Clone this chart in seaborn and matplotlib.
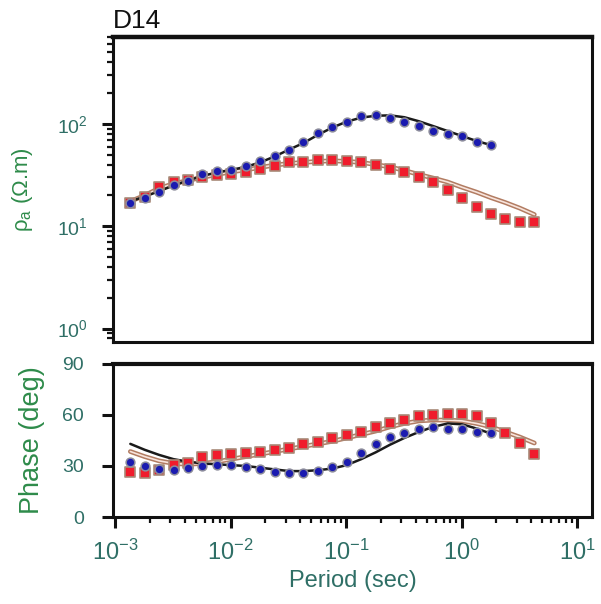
import numpy as np
import pandas as pd
import matplotlib
matplotlib.use("Agg")
import matplotlib.pyplot as plt
import seaborn as sns
from matplotlib.ticker import LogLocator, LogFormatterSciNotation, NullFormatter, FixedLocator

period = [0.00135, 0.0018, 0.0024, 0.0032, 0.00427, 0.00569, 0.00759, 0.0101,
          0.0135, 0.018, 0.024, 0.032, 0.0427, 0.0569, 0.0759, 0.101,
          0.135, 0.18, 0.24, 0.32, 0.427, 0.569, 0.759, 1.01,
          1.35, 1.8, 2.4, 3.2, 4.27]

rho_xy = [16.7, 19.0, 21.7, 25.0, 27.5, 32.0, 34.4, 35.8, 38.5, 43.0, 48.9, 56.0, 66.4,
          81.3, 94.2, 105, 118, 122, 113, 105, 95.5, 85.5, 78.7, 75.3, 65.8, 62.1]
rho_yx = [17.0, 19.5, 24.0, 27.0, 28.2, 30.0, 31.5, 32.5, 34.0, 36.0, 39.0, 42.0, 42.5,
          44.0, 44.0, 43.0, 42.0, 40.0, 36.3, 34.2, 30.1, 27.2, 22.5, 19.0, 15.5, 13.3,
          11.7, 11.1, 11.1]
rho_xy_model = [17.5, 19.5, 22.0, 25.0, 28.0, 31.0, 33.5, 35.5, 38.0, 42.0, 48.0, 56.0, 65.0,
                78.0, 92.0, 105, 115, 120, 121, 116, 106, 95.0, 85.0, 76.0, 68.0, 62.0]
rho_yx_model = [17.5, 20.0, 23.5, 26.0, 28.0, 30.0, 32.0, 34.0, 35.5, 37.5, 39.5, 41.0, 42.0,
                43.0, 43.5, 43.0, 42.0, 40.0, 38.0, 35.0, 32.0, 29.5, 27.0, 24.0, 21.5, 19.0,
                17.0, 15.0, 13.0]

phase_xy = [32.2, 30.2, 28.4, 27.6, 28.6, 30.0, 30.6, 30.6, 29.6, 28.1, 26.7, 26.1, 25.7,
            27.0, 29.6, 32.5, 37.5, 42.8, 46.9, 49.6, 51.8, 52.8, 51.8, 51.6, 50.2, 49.2]
phase_yx = [26.7, 26.0, 27.6, 30.6, 31.6, 35.1, 36.2, 36.8, 37.5, 38.0, 39.2, 40.4, 42.9,
            44.3, 46.3, 48.2, 50.2, 53.1, 55.1, 57.0, 59.4, 60.0, 60.6, 60.6, 59.4, 55.1,
            49.6, 43.4, 36.9]
phase_xy_model = [43.0, 39.5, 36.5, 34.0, 32.5, 31.5, 31.0, 30.5, 30.0, 29.0, 28.0, 27.0, 27.0,
                  27.5, 28.5, 30.5, 34.0, 38.0, 42.5, 46.5, 50.0, 53.0, 55.0, 54.5, 52.0, 49.0]
phase_yx_model = [38.5, 35.5, 33.0, 31.5, 31.0, 31.5, 32.5, 34.0, 35.5, 37.0, 38.5, 40.0, 41.5,
                  43.0, 44.5, 46.5, 48.5, 50.5, 53.0, 55.0, 56.5, 57.0, 57.0, 56.5, 55.0, 53.0,
                  50.0, 47.0, 43.5]

n_xy = len(rho_xy)
df_xy = pd.DataFrame({"period": period[:n_xy], "rho": rho_xy, "rho_m": rho_xy_model,
                      "phase": phase_xy, "phase_m": phase_xy_model})
df_yx = pd.DataFrame({"period": period, "rho": rho_yx, "rho_m": rho_yx_model,
                      "phase": phase_yx, "phase_m": phase_yx_model})

# === Style ===
sns.set_style("ticks")
plt.rcParams["font.family"] = ["Liberation Sans", "DejaVu Sans"]
plt.rcParams["mathtext.fontset"] = "custom"
plt.rcParams["mathtext.rm"] = "Liberation Sans"
plt.rcParams["mathtext.it"] = "Liberation Sans"
plt.rcParams["mathtext.bf"] = "Liberation Sans:bold"

TICK_COL = "#2f6f66"
LABEL_COL = "#2e8b4a"
BLUE = "#1a1ab0"
RED = "#f01c2c"

fig = plt.figure(figsize=(6.01, 6.04), dpi=100)
ax_rho = fig.add_axes([0.188, 0.434, 0.797, 0.505])
ax_ph = fig.add_axes([0.188, 0.144, 0.797, 0.2535])


def draw_panel(ax, col, col_m):
    # model curves
    sns.lineplot(data=df_yx, x="period", y=col_m, ax=ax, color="#b27c62", lw=3.4,
                 sort=False, zorder=2)
    sns.lineplot(data=df_yx, x="period", y=col_m, ax=ax, color="#f8e4dc", lw=1.2,
                 sort=False, zorder=2)
    sns.lineplot(data=df_xy, x="period", y=col_m, ax=ax, color="#1a1a1a", lw=1.8,
                 sort=False, zorder=2)
    # observed data
    sns.scatterplot(data=df_yx, x="period", y=col, ax=ax, marker="s", s=50,
                    color=RED, edgecolor="#a88a78", linewidth=1.2, zorder=3)
    sns.scatterplot(data=df_xy, x="period", y=col, ax=ax, marker="o", s=40,
                    color=BLUE, edgecolor="#8c8c9c", linewidth=1.1, zorder=4)


draw_panel(ax_rho, "rho", "rho_m")
draw_panel(ax_ph, "phase", "phase_m")

for ax in (ax_rho, ax_ph):
    ax.set_xscale("log")
    ax.set_xlim(10 ** -3.02, 10 ** 1.13)
    for sp in ax.spines.values():
        sp.set_visible(True)
        sp.set_linewidth(2.2)
        sp.set_color("#111111")
    ax.tick_params(which="both", direction="out", color="#111111", right=False, top=False)
    ax.tick_params(which="major", length=8, width=2.2, labelcolor=TICK_COL)
    ax.tick_params(which="minor", length=4.5, width=1.6)
    ax.set_xlabel("")
    ax.set_ylabel("")

# resistivity panel
ax_rho.set_yscale("log")
ax_rho.set_ylim(10 ** -0.13, 10 ** 2.85)
ax_rho.yaxis.set_major_locator(LogLocator(base=10, numticks=10))
ax_rho.yaxis.set_minor_locator(LogLocator(base=10, subs=np.arange(2, 10), numticks=20))
ax_rho.yaxis.set_major_formatter(LogFormatterSciNotation())
ax_rho.yaxis.set_minor_formatter(NullFormatter())
ax_rho.tick_params(axis="x", which="both", bottom=False, labelbottom=False)
ax_rho.tick_params(axis="y", labelsize=14, pad=10)
ax_rho.spines["top"].set_linewidth(3.2)
ax_rho.set_ylabel(r"$\rho_a$ ($\Omega$.m)", color=LABEL_COL, fontsize=16, labelpad=16)
ax_rho.text(0.0, 1.012, "D14", transform=ax_rho.transAxes, fontsize=19,
            ha="left", va="bottom", color="#111111")

# phase panel
ax_ph.set_ylim(0, 90)
ax_ph.yaxis.set_major_locator(FixedLocator([0, 30, 60, 90]))
ax_ph.tick_params(axis="y", labelsize=14, pad=13)
ax_ph.tick_params(axis="x", labelsize=17, pad=8)
ax_ph.spines["top"].set_linewidth(3.0)
ax_ph.xaxis.set_major_locator(LogLocator(base=10, numticks=10))
ax_ph.xaxis.set_minor_locator(LogLocator(base=10, subs=np.arange(2, 10), numticks=20))
ax_ph.xaxis.set_major_formatter(LogFormatterSciNotation())
ax_ph.xaxis.set_minor_formatter(NullFormatter())
ax_ph.set_ylabel("Phase (deg)", color=LABEL_COL, fontsize=19.5, labelpad=12)
ax_ph.set_xlabel("Period (sec)", color=TICK_COL, fontsize=17, labelpad=4)

fig.savefig("out.png", dpi=100)
